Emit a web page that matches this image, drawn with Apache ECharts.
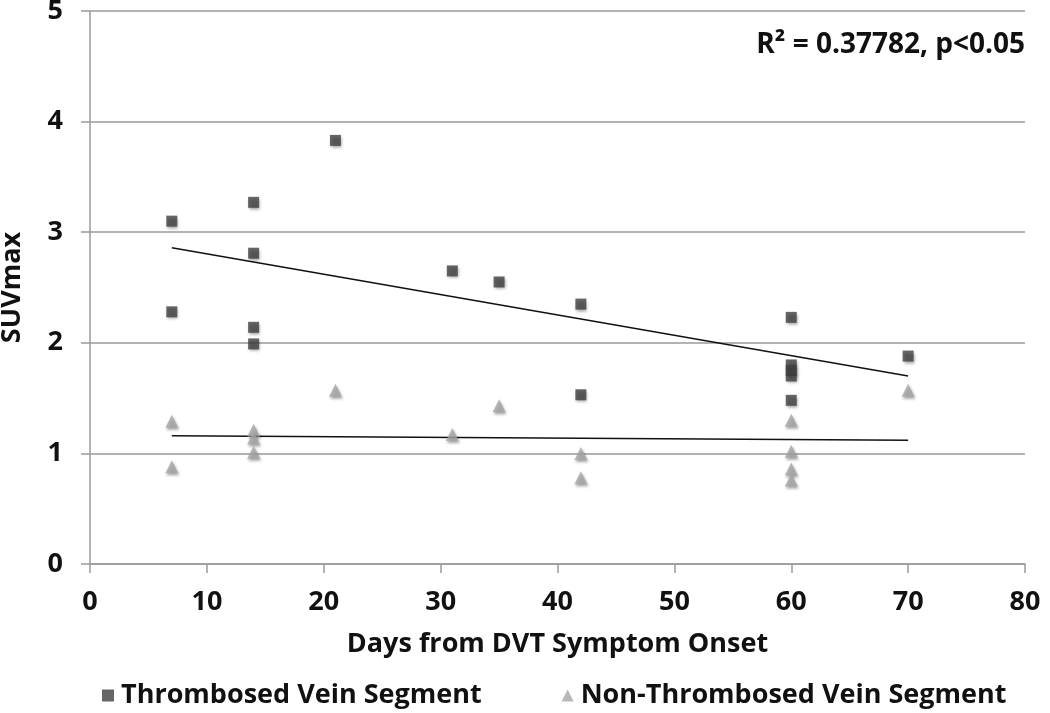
<!DOCTYPE html>
<html><head><meta charset="utf-8">
<script src="https://cdn.jsdelivr.net/npm/echarts@6/dist/echarts.min.js"></script>
<style>html,body{margin:0;padding:0;background:#fff}#c{width:1050px;height:713px}</style>
</head><body><div id="c"></div>
<script>
// Data
const thrombosedDays = [7, 7, 14, 14, 14, 14, 21, 31, 35, 42, 42, 60, 60, 60, 60, 60, 70];
const thrombosedSUV  = [3.10, 2.28, 3.27, 2.81, 2.14, 1.99, 3.83, 2.65, 2.55, 2.35, 1.53, 2.23, 1.80, 1.75, 1.70, 1.48, 1.88];
const nonThrombDays  = [7, 7, 14, 14, 14, 21, 31, 35, 42, 42, 60, 60, 60, 60, 70];
const nonThrombSUV   = [1.29, 0.88, 1.21, 1.14, 1.01, 1.57, 1.17, 1.43, 1.00, 0.78, 1.30, 1.02, 0.86, 0.76, 1.57];
const trendThrombDays = [7, 70];
const trendThrombSUV  = [2.86, 1.70];
const trendNonDays    = [7, 70];
const trendNonSUV     = [1.16, 1.12];
const xTicks = [0, 10, 20, 30, 40, 50, 60, 70, 80];
const yTicks = [0, 1, 2, 3, 4, 5];
const seriesNames = ['Thrombosed Vein Segment', 'Non-Thrombosed Vein Segment'];
const annotation = 'R\u00B2 = 0.37782, p<0.05';

const zip = (a, b) => a.map((v, i) => [v, b[i]]);
const FONT = '"Open Sans"';
const FS = 27;
const shadow = {shadowBlur: 3, shadowColor: 'rgba(0,0,0,0.45)', shadowOffsetX: 1, shadowOffsetY: 2};

const chart = echarts.init(document.getElementById('c'), null, {renderer: 'canvas'});
chart.setOption({
  animation: false,
  backgroundColor: '#fff',
  textStyle: {fontFamily: FONT},
  grid: {left: 90, right: 25, top: 11, bottom: 149, containLabel: false, outerBoundsMode: 'none'},
  xAxis: {
    type: 'value', min: xTicks[0], max: xTicks[xTicks.length - 1], interval: 10,
    name: 'Days from DVT Symptom Onset', nameLocation: 'middle', nameGap: 67,
    nameTextStyle: {fontFamily: FONT, fontWeight: 'bold', fontSize: FS, color: '#111'},
    axisLine: {show: true, lineStyle: {color: '#9a9a9a', width: 1.5}},
    axisTick: {show: true, length: 9, lineStyle: {color: '#9a9a9a', width: 1.5}},
    axisLabel: {fontFamily: FONT, fontWeight: 'bold', fontSize: FS, color: '#111', margin: 25},
    splitLine: {show: false}
  },
  yAxis: {
    type: 'value', min: yTicks[0], max: yTicks[yTicks.length - 1], interval: 1,
    name: 'SUVmax', nameLocation: 'middle', nameGap: 64, nameRotate: 90,
    nameTextStyle: {fontFamily: FONT, fontWeight: 'bold', fontSize: FS, color: '#111'},
    axisLine: {show: true, lineStyle: {color: '#9a9a9a', width: 1.5}},
    axisTick: {show: true, length: 9, lineStyle: {color: '#9a9a9a', width: 1.5}},
    axisLabel: {fontFamily: FONT, fontWeight: 'bold', fontSize: FS, color: '#111', margin: 27},
    splitLine: {show: true, lineStyle: {color: '#9a9a9a', width: 1.5}}
  },
  legend: {
    data: [{name: seriesNames[0], icon: 'rect'}, {name: seriesNames[1], icon: 'triangle'}],
    left: 97, top: 677, itemWidth: 12, itemHeight: 12, itemGap: 80,
    textStyle: {fontFamily: FONT, fontWeight: 'bold', fontSize: FS, color: '#111', padding: [0, 0, 0, 2]}
  },
  graphic: [{
    type: 'text', right: 25, top: 31,
    style: {text: annotation, font: 'bold 28px ' + FONT, fill: '#111'}
  }],
  series: [
    {name: seriesNames[0], type: 'scatter', symbol: 'rect', symbolSize: 11, z: 3,
     itemStyle: Object.assign({color: '#404040'}, shadow),
     data: zip(thrombosedDays, thrombosedSUV)},
    {name: seriesNames[1], type: 'scatter', symbol: 'triangle', symbolSize: 13, z: 3,
     itemStyle: Object.assign({color: '#a6a6a6'}, shadow),
     data: zip(nonThrombDays, nonThrombSUV)},
    {name: 'trend1', type: 'line', showSymbol: false, symbol: 'none', silent: true, z: 2,
     lineStyle: {color: '#111', width: 1.5}, data: zip(trendThrombDays, trendThrombSUV)},
    {name: 'trend2', type: 'line', showSymbol: false, symbol: 'none', silent: true, z: 2,
     lineStyle: {color: '#111', width: 1.5}, data: zip(trendNonDays, trendNonSUV)}
  ]
});
</script></body></html>
